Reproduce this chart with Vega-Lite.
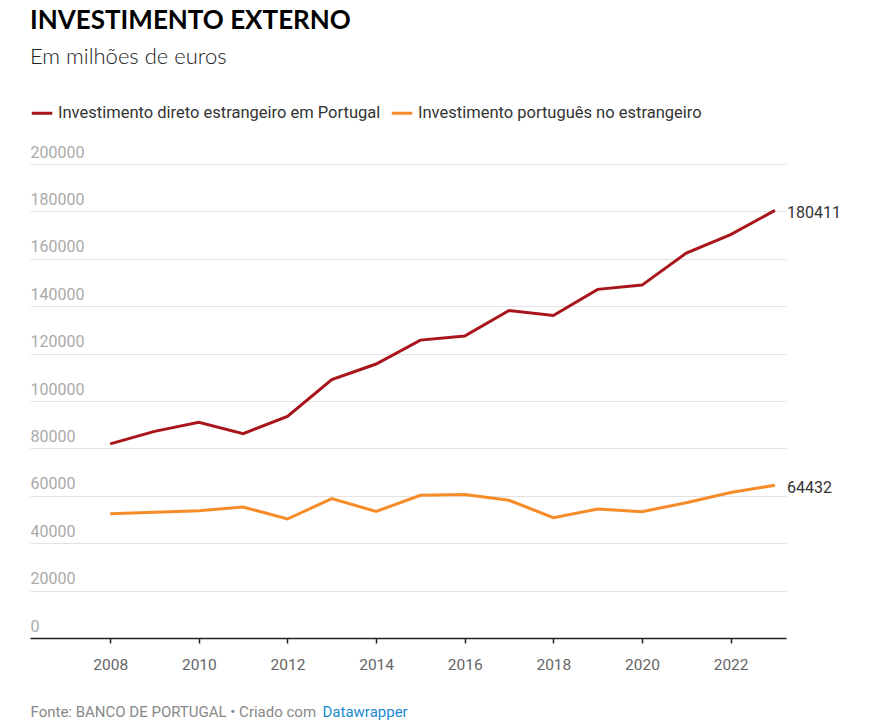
{
  "$schema": "https://vega.github.io/schema/vega-lite/v6.json",
  "width": 756,
  "height": 474,
  "autosize": {"type": "none"},
  "padding": {"left": 30, "top": 164, "right": 104, "bottom": 89},
  "background": "white",
  "title": {
    "text": "INVESTIMENTO EXTERNO",
    "subtitle": "Em milhões de euros",
    "anchor": "start",
    "frame": "group",
    "font": "Lato",
    "fontSize": 26,
    "fontWeight": "bold",
    "color": "#000000",
    "subtitleFont": "Lato",
    "subtitleFontSize": 22,
    "subtitleFontWeight": 300,
    "subtitleColor": "#222222",
    "subtitlePadding": 13,
    "offset": 33
  },
  "config": {
    "view": {"stroke": null},
    "font": "Roboto"
  },
  "data": {
    "values": [
      {"year": 2008, "series": "Investimento direto estrangeiro em Portugal", "value": 81900},
      {"year": 2009, "series": "Investimento direto estrangeiro em Portugal", "value": 87200},
      {"year": 2010, "series": "Investimento direto estrangeiro em Portugal", "value": 91000},
      {"year": 2011, "series": "Investimento direto estrangeiro em Portugal", "value": 86200},
      {"year": 2012, "series": "Investimento direto estrangeiro em Portugal", "value": 93500},
      {"year": 2013, "series": "Investimento direto estrangeiro em Portugal", "value": 109000},
      {"year": 2014, "series": "Investimento direto estrangeiro em Portugal", "value": 115600},
      {"year": 2015, "series": "Investimento direto estrangeiro em Portugal", "value": 125700},
      {"year": 2016, "series": "Investimento direto estrangeiro em Portugal", "value": 127400},
      {"year": 2017, "series": "Investimento direto estrangeiro em Portugal", "value": 138200},
      {"year": 2018, "series": "Investimento direto estrangeiro em Portugal", "value": 136100},
      {"year": 2019, "series": "Investimento direto estrangeiro em Portugal", "value": 147100},
      {"year": 2020, "series": "Investimento direto estrangeiro em Portugal", "value": 148900},
      {"year": 2021, "series": "Investimento direto estrangeiro em Portugal", "value": 162400},
      {"year": 2022, "series": "Investimento direto estrangeiro em Portugal", "value": 170200},
      {"year": 2023, "series": "Investimento direto estrangeiro em Portugal", "value": 180411},
      {"year": 2008, "series": "Investimento português no estrangeiro", "value": 52450},
      {"year": 2009, "series": "Investimento português no estrangeiro", "value": 53100},
      {"year": 2010, "series": "Investimento português no estrangeiro", "value": 53700},
      {"year": 2011, "series": "Investimento português no estrangeiro", "value": 55300},
      {"year": 2012, "series": "Investimento português no estrangeiro", "value": 50200},
      {"year": 2013, "series": "Investimento português no estrangeiro", "value": 58800},
      {"year": 2014, "series": "Investimento português no estrangeiro", "value": 53400},
      {"year": 2015, "series": "Investimento português no estrangeiro", "value": 60200},
      {"year": 2016, "series": "Investimento português no estrangeiro", "value": 60500},
      {"year": 2017, "series": "Investimento português no estrangeiro", "value": 58100},
      {"year": 2018, "series": "Investimento português no estrangeiro", "value": 50800},
      {"year": 2019, "series": "Investimento português no estrangeiro", "value": 54400},
      {"year": 2020, "series": "Investimento português no estrangeiro", "value": 53300},
      {"year": 2021, "series": "Investimento português no estrangeiro", "value": 57100},
      {"year": 2022, "series": "Investimento português no estrangeiro", "value": 61400},
      {"year": 2023, "series": "Investimento português no estrangeiro", "value": 64432}
    ]
  },
  "resolve": {"axis": {"x": "independent"}},
  "layer": [
    {
      "mark": {"type": "line", "strokeWidth": 3, "strokeJoin": "miter"},
      "encoding": {
        "x": {
          "field": "year",
          "type": "quantitative",
          "scale": {"domain": [2006.19, 2023.25], "nice": false, "zero": false},
          "axis": {
            "orient": "bottom",
            "values": [2008, 2010, 2012, 2014, 2016, 2018, 2020, 2022],
            "format": "d",
            "grid": false,
            "domainColor": "#222222",
            "domainWidth": 1.5,
            "tickColor": "#222222",
            "tickWidth": 1.5,
            "tickSize": 5,
            "labelFont": "Roboto",
            "labelFontSize": 15.5,
            "labelColor": "#666666",
            "labelPadding": 14,
            "labelFlush": false,
            "title": "Fonte: BANCO DE PORTUGAL • Criado com",
            "titleFont": "Roboto",
            "titleFontSize": 15,
            "titleFontWeight": "normal",
            "titleColor": "#888888",
            "titleAnchor": "start",
            "titleAlign": "left",
            "titleBaseline": "alphabetic",
            "titleX": 0,
            "titleY": 78
          }
        },
        "y": {
          "field": "value",
          "type": "quantitative",
          "scale": {"domain": [0, 200000], "nice": false},
          "axis": {
            "values": [0, 20000, 40000, 60000, 80000, 100000, 120000, 140000, 160000, 180000, 200000],
            "format": "d",
            "title": null,
            "domain": false,
            "ticks": false,
            "tickSize": 0,
            "labelPadding": 0,
            "labelAlign": "left",
            "labelBaseline": "alphabetic",
            "labelOffset": -7,
            "labelFont": "Roboto",
            "labelFontSize": 16,
            "labelColor": "#aaaaaa",
            "gridColor": "#e3e3e3",
            "gridWidth": 1
          }
        },
        "color": {
          "field": "series",
          "type": "nominal",
          "scale": {
            "domain": ["Investimento direto estrangeiro em Portugal", "Investimento português no estrangeiro"],
            "range": ["#a8151b", "#f68b28"]
          },
          "legend": {
            "title": null,
            "orient": "none",
            "legendX": 0,
            "legendY": -63,
            "direction": "horizontal",
            "symbolType": "stroke",
            "symbolSize": 420,
            "symbolStrokeWidth": 3,
            "labelFont": "Roboto",
            "labelFontSize": 16.5,
            "labelColor": "#333333",
            "labelLimit": 0,
            "labelOffset": 4,
            "columnPadding": 4
          }
        }
      }
    },
    {
      "transform": [{"filter": "datum.year == 2023"}],
      "mark": {"type": "text", "align": "left", "baseline": "middle", "dx": 12, "dy": 3, "font": "Roboto", "fontSize": 16, "color": "#333333"},
      "encoding": {
        "x": {
          "field": "year",
          "type": "quantitative",
          "axis": {
            "orient": "bottom",
            "domain": false,
            "ticks": false,
            "labels": false,
            "grid": false,
            "title": "Datawrapper",
            "titleFont": "Roboto",
            "titleFontSize": 15,
            "titleFontWeight": "normal",
            "titleColor": "#1a8ad0",
            "titleAnchor": "start",
            "titleAlign": "left",
            "titleBaseline": "alphabetic",
            "titleX": 292,
            "titleY": 78
          }
        },
        "y": {"field": "value", "type": "quantitative"},
        "text": {"field": "value", "type": "quantitative", "format": "d"}
      }
    }
  ]
}
